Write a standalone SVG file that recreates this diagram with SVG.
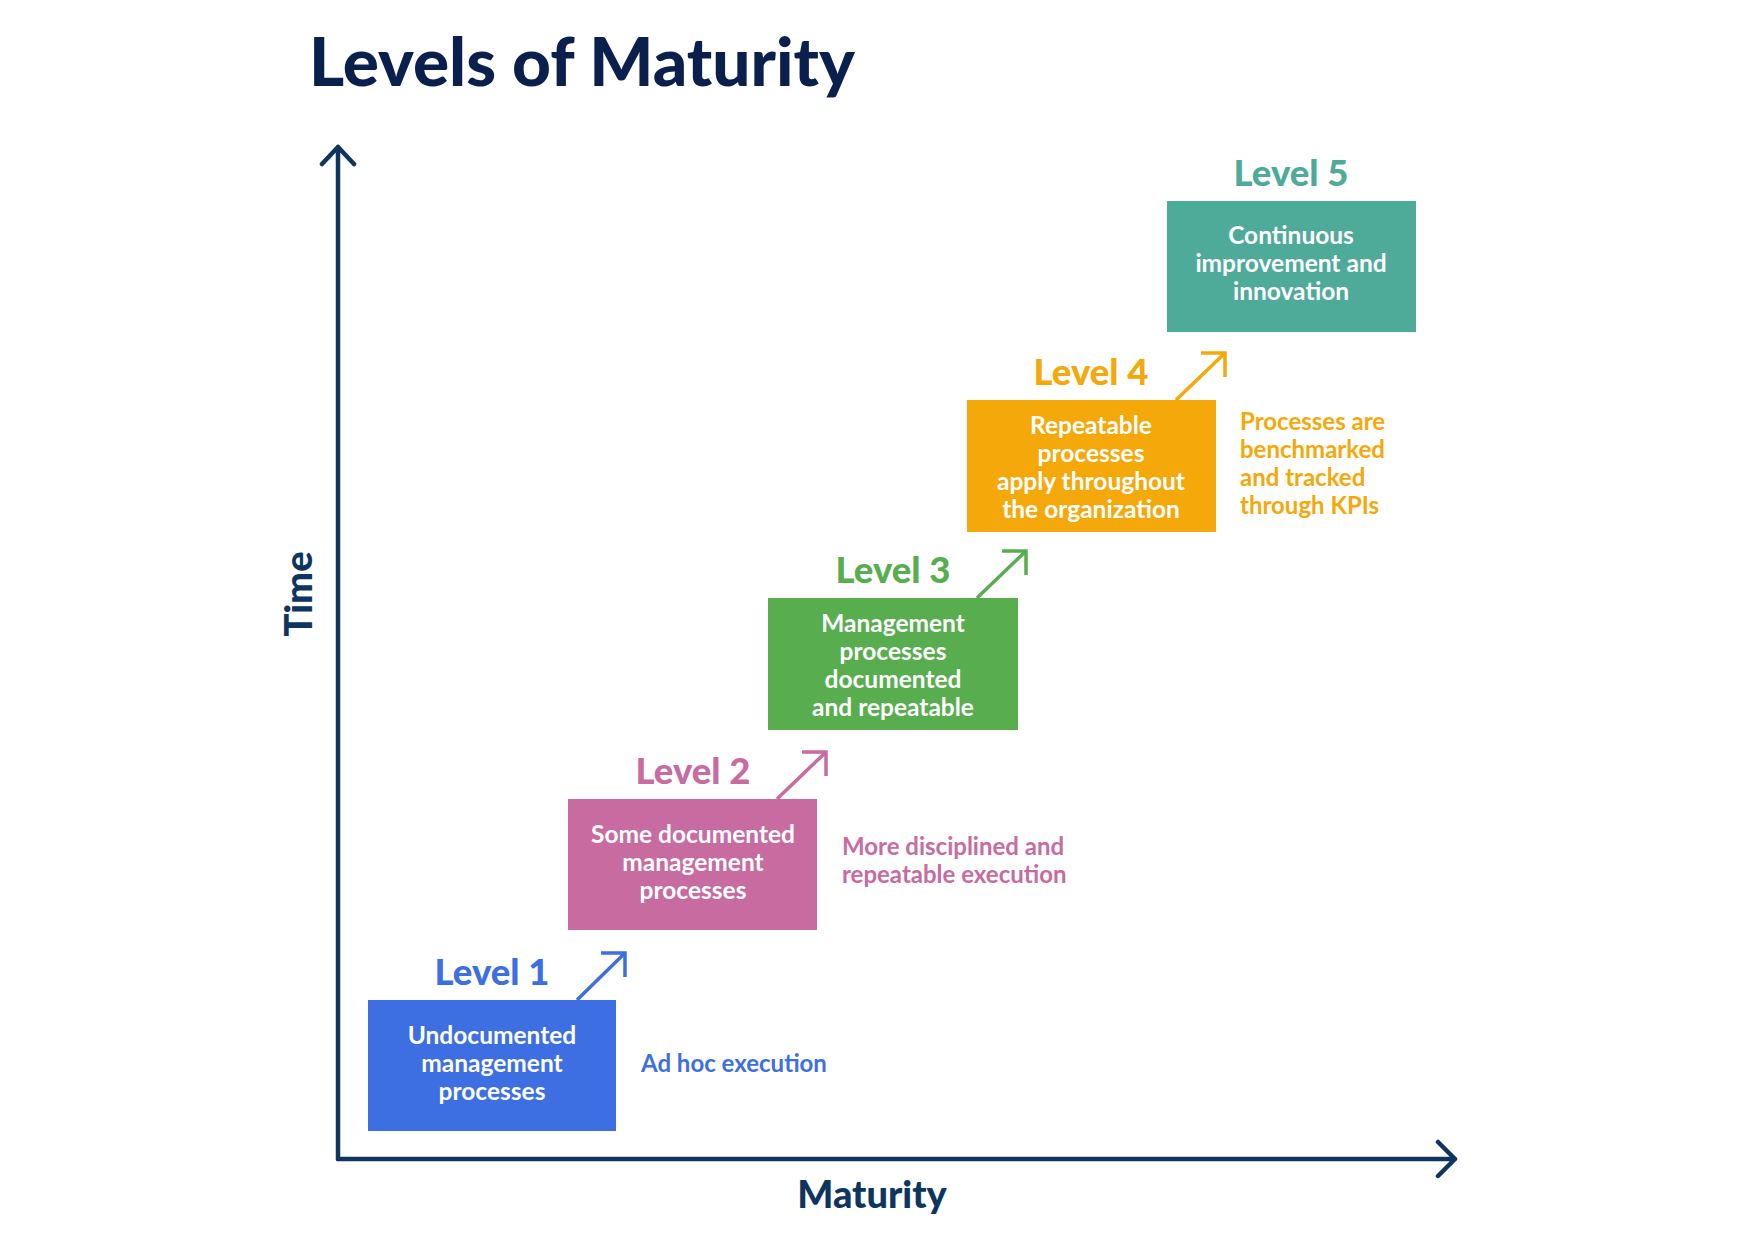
<svg xmlns="http://www.w3.org/2000/svg" width="1748" height="1240" viewBox="0 0 1748 1240">
<style>
  .title{font-family:Lato,"Liberation Sans",sans-serif;font-weight:900;font-size:67.5px;fill:#0b1f4d}
  .axislbl{font-family:Lato,"Liberation Sans",sans-serif;font-weight:900;font-size:38px;fill:#0e3560}
  .lvl{font-family:Lato,"Liberation Sans",sans-serif;font-weight:900;font-size:36.5px;text-anchor:middle}
  .box{font-family:Lato,"Liberation Sans",sans-serif;font-weight:bold;font-size:24.5px;fill:#ffffff;text-anchor:middle}
  .side{font-family:Lato,"Liberation Sans",sans-serif;font-weight:bold;font-size:24px}
  .axis{stroke:#0e3560;stroke-width:4.5;fill:none;stroke-linecap:round;stroke-linejoin:round}
  .arr{stroke-width:3.5;fill:none;stroke-linecap:butt;stroke-linejoin:miter}
</style>
<rect width="1748" height="1240" fill="#ffffff"/>
<text class="title" x="309" y="86">Levels of Maturity</text>

<g id="axes">
  <path class="axis" d="M338,1159 V147 M322,164 L338,147 L354,164"/>
  <path class="axis" d="M338,1159 H1455 M1438,1142 L1455,1159 L1438,1176"/>
  <text class="axislbl" transform="translate(312,594) rotate(-90)" text-anchor="middle">Time</text>
  <text class="axislbl" x="872" y="1208" text-anchor="middle">Maturity</text>
</g>

<g id="connectors">
  <path class="arr" stroke="#3d6fe3" d="M577,1000 L625,953 M601,953 H625 V977"/>
  <path class="arr" stroke="#c86ba0" d="M777,799 L826,752 M802,752 H826 V776"/>
  <path class="arr" stroke="#58ad4f" d="M977,598 L1026,551 M1002,551 H1026 V575"/>
  <path class="arr" stroke="#f5a80a" d="M1176,400 L1225,353 M1201,353 H1225 V377"/>
</g>

<g id="level1">
  <text class="lvl" x="492" y="985" fill="#3d6fe3">Level 1</text>
  <rect x="368" y="1000" width="248" height="131" fill="#3d6fe3"/>
  <text class="box" x="492" y="1044">Undocumented</text>
  <text class="box" x="492" y="1072">management</text>
  <text class="box" x="492" y="1100">processes</text>
  <text class="side" x="641" y="1072" fill="#3d6fe3">Ad hoc execution</text>
</g>

<g id="level2">
  <text class="lvl" x="693" y="784" fill="#c86ba0">Level 2</text>
  <rect x="568" y="799" width="249" height="131" fill="#c86ba0"/>
  <text class="box" x="693" y="843">Some documented</text>
  <text class="box" x="693" y="871">management</text>
  <text class="box" x="693" y="899">processes</text>
  <text class="side" x="842" y="855" fill="#c86ba0">More disciplined and</text>
  <text class="side" x="842" y="883" fill="#c86ba0">repeatable execution</text>
</g>

<g id="level3">
  <text class="lvl" x="893" y="583" fill="#58ad4f">Level 3</text>
  <rect x="768" y="598" width="250" height="132" fill="#58ad4f"/>
  <text class="box" x="893" y="632">Management</text>
  <text class="box" x="893" y="660">processes</text>
  <text class="box" x="893" y="688">documented</text>
  <text class="box" x="893" y="716">and repeatable</text>
</g>

<g id="level4">
  <text class="lvl" x="1091" y="385" fill="#f5a80a">Level 4</text>
  <rect x="967" y="400" width="249" height="132" fill="#f5a80a"/>
  <text class="box" x="1091" y="434">Repeatable</text>
  <text class="box" x="1091" y="462">processes</text>
  <text class="box" x="1091" y="490">apply throughout</text>
  <text class="box" x="1091" y="518">the organization</text>
  <text class="side" x="1240" y="430" fill="#f5a80a">Processes are</text>
  <text class="side" x="1240" y="458" fill="#f5a80a">benchmarked</text>
  <text class="side" x="1240" y="486" fill="#f5a80a">and tracked</text>
  <text class="side" x="1240" y="514" fill="#f5a80a">through KPIs</text>
</g>

<g id="level5">
  <text class="lvl" x="1291" y="186" fill="#4eab9a">Level 5</text>
  <rect x="1167" y="201" width="249" height="131" fill="#4eab9a"/>
  <text class="box" x="1291" y="244">Continuous</text>
  <text class="box" x="1291" y="272">improvement and</text>
  <text class="box" x="1291" y="300">innovation</text>
</g>
</svg>
